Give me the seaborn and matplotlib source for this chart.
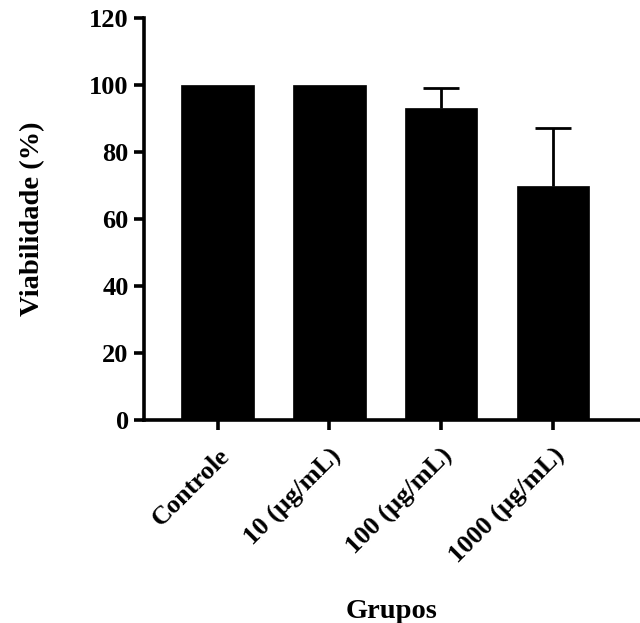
import numpy as np
import matplotlib
matplotlib.use('Agg')
import matplotlib.pyplot as plt
import seaborn as sns

# data
grupos = ['Controle', '10 (µg/mL)', '100 (µg/mL)', '1000 (µg/mL)']
viabilidade = [100.0, 100.0, 93.2, 69.9]
erro = [0.0, 0.0, 5.8, 17.2]

sns.set_style('ticks')
plt.rcParams['font.family'] = ['Liberation Serif', 'DejaVu Serif']
plt.rcParams['font.weight'] = 'bold'
plt.rcParams['text.color'] = 'black'
plt.rcParams['axes.labelcolor'] = 'black'
plt.rcParams['xtick.color'] = 'black'
plt.rcParams['ytick.color'] = 'black'

fig = plt.figure(figsize=(6.4, 6.23), dpi=100)
ax = fig.add_axes([0.225, 0.326, 0.775, 0.645])

sns.barplot(x=grupos, y=viabilidade, color='black', width=0.65,
            errorbar=None, saturation=1, edgecolor='black', linewidth=0.5,
            ax=ax)

#only the upper half of the error bars is shown
pos = np.arange(len(grupos))
tem_erro = np.array(erro) > 0
eb = ax.errorbar(pos[tem_erro], np.array(viabilidade)[tem_erro],
                 yerr=[np.zeros(tem_erro.sum()), np.array(erro)[tem_erro]], fmt='none',
                 ecolor='black', elinewidth=2, capsize=13, capthick=2)
# hide the lower caps (they sit on top of the bars)
eb[1][0].set_visible(False)

ax.set_ylim(0, 120)
ax.set_yticks([0, 20, 40, 60, 80, 100, 120])
ax.set_xlim(-0.66, 3.78)

for s in ['top', 'right']:
    ax.spines[s].set_visible(False)
for s in ['left', 'bottom']:
    ax.spines[s].set_linewidth(2.6)
    ax.spines[s].set_color('black')
    ax.spines[s].set_zorder(3)

ax.tick_params(axis='both', width=2.6, length=7.5, labelsize=19)
ax.tick_params(axis='x', pad=10)
ax.set_xticks(pos)
ax.set_xticklabels(grupos, rotation=45, ha='right', rotation_mode='anchor',
                   fontweight='bold')
for lab in ax.get_yticklabels():
    lab.set_fontweight('bold')

ax.set_xlabel('Grupos', fontsize=20.5, fontweight='bold', labelpad=22)
ax.set_ylabel('Viabilidade (%)', fontsize=20.5, fontweight='bold', labelpad=32)

fig.savefig('out.png', dpi=100)
